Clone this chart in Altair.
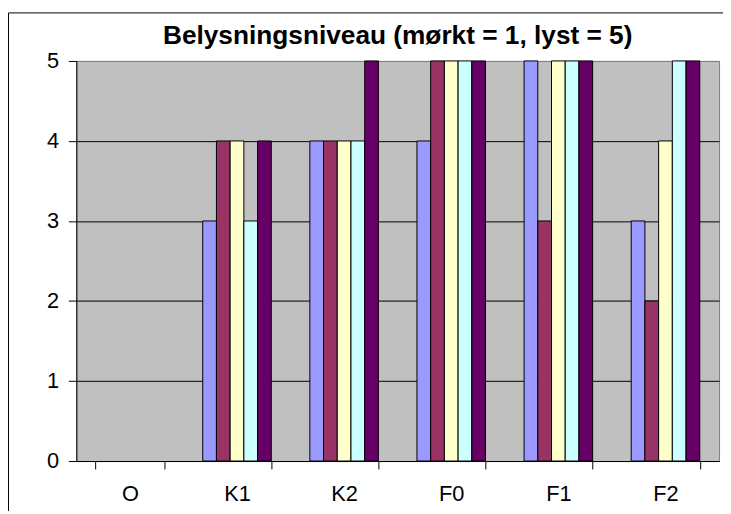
import altair as alt
import pandas as pd

categories = ["O", "K1", "K2", "F0", "F1", "F2"]
series = ["Serie 1", "Serie 2", "Serie 3", "Serie 4", "Serie 5"]
colors = ["#9999FF", "#993366", "#FFFFCC", "#CCFFFF", "#660066"]
# values per series, one entry per category (None = no bar)
s1 = [None, 3, 4, 4, 5, 3]
s2 = [None, 4, 4, 5, 3, 2]
s3 = [None, 4, 4, 5, 5, 4]
s4 = [None, 3, 4, 5, 5, 5]
s5 = [None, 4, 5, 5, 5, 5]
y_ticks = [0, 1, 2, 3, 4, 5]
title_text = "Belysningsniveau (mørkt = 1, lyst = 5)"

rows = []
for name, vals in zip(series, [s1, s2, s3, s4, s5]):
    for c, v in zip(categories, vals):
        if v is not None:
            rows.append({"kategori": c, "serie": name, "niveau": v})
df = pd.DataFrame(rows)

W, H = 649, 404

bars = alt.Chart(df).mark_bar(stroke="black", strokeWidth=1).encode(
    x=alt.X("kategori:N", sort=categories,
            scale=alt.Scale(domain=categories, paddingInner=0.36, paddingOuter=0.18),
            axis=alt.Axis(title=None, labelAngle=0, tickBand="extent", tickSize=8,
                          tickColor="black", domainColor="black", labelFont="Liberation Sans",
                          labelFontSize=22, labelColor="black", labelPadding=15, grid=False)),
    xOffset=alt.XOffset("serie:N", sort=series),
    y=alt.Y("niveau:Q", scale=alt.Scale(domain=[0, 5], nice=False),
            axis=alt.Axis(title=None, values=y_ticks, tickSize=8, tickColor="black",
                          domainColor="black", labelFont="Liberation Sans", labelFontSize=22,
                          labelColor="black", labelPadding=10,
                          grid=True,
                          gridColor={"condition": {"test": "datum.value === 5", "value": "#808080"},
                                     "value": "black"},
                          gridOpacity=1)),
    color=alt.Color("serie:N", sort=series, scale=alt.Scale(domain=series, range=colors), legend=None),
)

frame = alt.Chart(pd.DataFrame({"a": [0]})).mark_rect(
    filled=False, stroke="black", strokeWidth=1
).encode(
    x=alt.value(-68.5), y=alt.value(-48.5), x2=alt.value(W + 200), y2=alt.value(H + 200)
)

title = alt.Chart(pd.DataFrame({"t": [title_text]})).mark_text(
    font="Liberation Sans", fontSize=26.5, fontWeight="bold", color="black",
    align="center", baseline="alphabetic"
).encode(text="t:N", x=alt.value(W / 2), y=alt.value(-17))

chart = alt.layer(bars, frame, title).properties(
    width=W, height=H,
    autosize=alt.AutoSizeParams(type="none"),
    padding={"left": 69, "top": 51, "right": 4, "bottom": 48},
    background="white",
).configure_view(fill="#C0C0C0", stroke="#808080", strokeWidth=1)

chart.save("out.html", embed_options={"renderer": "svg", "actions": False})
